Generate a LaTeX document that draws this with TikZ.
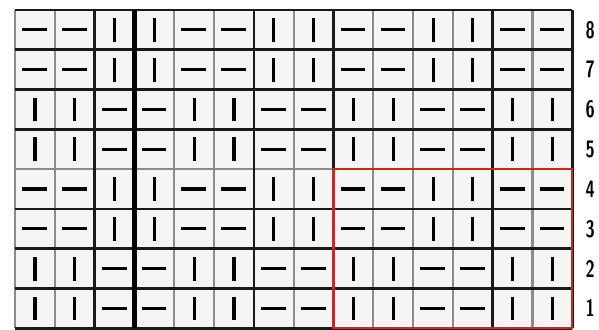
\documentclass[tikz,border=0pt]{standalone}
\usepackage{amsmath}
\usepackage{tikz}
\usetikzlibrary{calc}
\usepackage{xcolor}
\definecolor{framered}{RGB}{200,40,30}

\begin{document}
\begin{tikzpicture}[x=1cm,y=1cm]

        % 1. Define the grid size and the drawing limits
        \pgfmathsetmacro{\ncols}{14} % Number of columns
        \pgfmathsetmacro{\nrows}{8}  % Number of rows

        \useasboundingbox (-0.38,-0.04) rectangle (14.67,8.25);

        \coordinate (SW) at (0,0);          % Bottom Left
        \coordinate (NE) at (\ncols,\nrows); % Top Right
        \coordinate (FrameSW) at (8,0);     % Bottom Left of the red frame
        \coordinate (FrameNE) at (14,4);    % Top Right of the red frame

        \tikzset{
          thinline/.style={line width=1.6pt, black!45},
          thickline/.style={line width=1.9pt, black!90},
          heavyline/.style={line width=3pt, black},
          hbar/.style={line width=2.3pt, black, line cap=butt},
          vbar/.style={line width=2.2pt, black, line cap=butt},
          rowlabel/.style={font=\fontsize{17}{17}\selectfont\sffamily\bfseries, xscale=0.7, inner sep=0pt}
        }

        % 2. Light background of the cells
        \fill[black!4] (SW) rectangle (NE);

        % 3. Grid lines (grey ones first, black ones on top)
        \foreach \x in {0,1,4,5,7,9,10,11,13}
          \draw[thinline] (\x,0) -- (\x,\nrows);
        \foreach \y in {4}
          \draw[thinline] (0,\y) -- (\ncols,\y);
        \foreach \y in {0,1,2,3,5,6,7,8}
          \draw[thickline] (0,\y) -- (\ncols,\y);
        \foreach \x in {2,6,8,12,14}
          \draw[thickline] (\x,0) -- (\x,\nrows);
        \draw[heavyline] (3,0) -- (3,\nrows);

        % 4. The dashes: horizontal or vertical, in blocks of 2 x 2 cells
        \foreach \c in {0,...,13}{
          \foreach \r in {0,...,7}{
            \pgfmathtruncatemacro{\kind}{mod(floor(\c/2)+floor(\r/2),2)}
            \ifnum\kind=1
              \draw[hbar] (\c+0.18,\r+0.5) -- (\c+0.8,\r+0.5);
            \else
              \draw[vbar] (\c+0.5,\r+0.2) -- (\c+0.5,\r+0.8);
            \fi
          }
        }

        % 5. Red frame round the lower right block
        \draw[line width=1.6pt, framered] (FrameSW) rectangle (FrameNE);

        % 6. Row numbers on the right
        \foreach \r in {1,...,8}
          \node[rowlabel] (row\r) at (14.45,\r-0.5) {\r};

\end{tikzpicture}
\end{document}
